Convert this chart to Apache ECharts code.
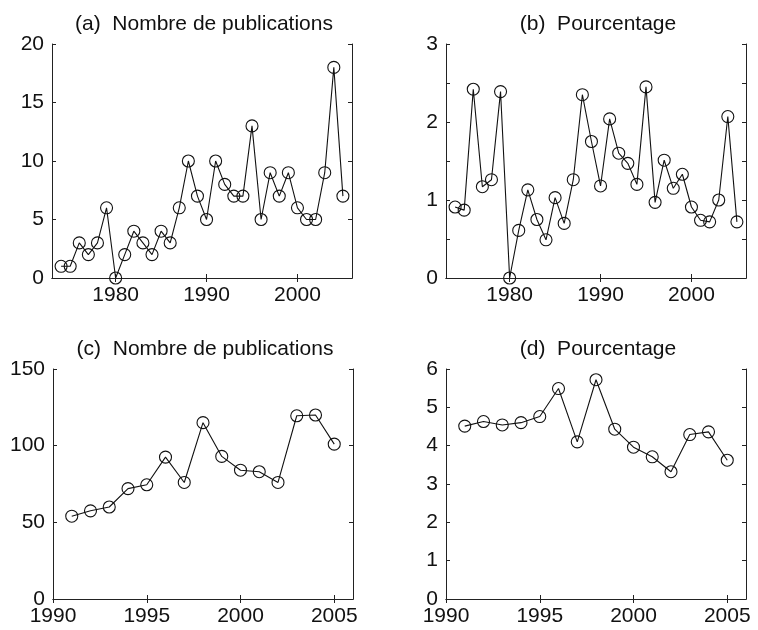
<!DOCTYPE html>
<html>
<head>
<meta charset="utf-8">
<script src="https://cdn.jsdelivr.net/npm/echarts@6/dist/echarts.min.js"></script>
<style>
html,body{margin:0;padding:0;background:#fff;}
#chart{width:758px;height:630px;}
</style>
</head>
<body>
<div id="chart"></div>
<script>
// ---- Data ----
const yearsTop = [1974,1975,1976,1977,1978,1979,1980,1981,1982,1983,1984,1985,1986,1987,1988,1989,
                  1990,1991,1992,1993,1994,1995,1996,1997,1998,1999,2000,2001,2002,2003,2004,2005];
const pubsA = [1,1,3,2,3,6,0,2,4,3,2,4,3,6,10,7,5,10,8,7,7,13,5,9,7,9,6,5,5,9,18,7];
const pctB = [0.91,0.87,2.42,1.17,1.26,2.39,0,0.61,1.13,0.75,0.49,1.03,0.70,1.26,2.35,1.75,
              1.18,2.04,1.60,1.47,1.20,2.45,0.97,1.51,1.15,1.33,0.91,0.74,0.72,1.00,2.07,0.72];
const yearsBottom = [1991,1992,1993,1994,1995,1996,1997,1998,1999,2000,2001,2002,2003,2004,2005];
const pubsC = [54,57.5,60,72,74.5,92.5,76,115,93,84,83,76,119.5,120,101];
const pctD = [4.51,4.63,4.54,4.60,4.76,5.49,4.10,5.72,4.43,3.96,3.71,3.32,4.29,4.36,3.62];

const titles = ['(a)  Nombre de publications','(b)  Pourcentage','(c)  Nombre de publications','(d)  Pourcentage'];
const xTicksTop = [1980,1990,2000];
const xTicksBottom = [1990,1995,2000,2005];

// ---- Layout ----
const FONT = "'Liberation Sans', Arial, sans-serif";
const TXT = '#111';
const AX = '#222';
const FS = 21;
const grids = [
  {left:52, top:44, width:300, height:234},
  {left:446, top:44, width:300, height:234},
  {left:53, top:369, width:300, height:230},
  {left:446, top:369, width:300, height:230}
];
const xr = [[1973,2006],[1973,2006],[1990,2006],[1990,2006]];
const xt = [xTicksTop, xTicksTop, xTicksBottom, xTicksBottom];
const yr = [[0,20,5],[0,3,0.5],[0,150,50],[0,6,1]];
const seriesData = [
  yearsTop.map((y,i)=>[y,pubsA[i]]),
  yearsTop.map((y,i)=>[y,pctB[i]]),
  yearsBottom.map((y,i)=>[y,pubsC[i]]),
  yearsBottom.map((y,i)=>[y,pctD[i]])
];

const xAxis = [], yAxis = [], series = [], title = [];
grids.forEach((g,i)=>{
  const axLine = {show:true, lineStyle:{color:AX, width:1}};
  const tick = {show:true, inside:true, length:4, lineStyle:{color:AX}, customValues: xt[i]};
  xAxis.push({type:'value', gridIndex:i, position:'bottom', min:xr[i][0], max:xr[i][1],
    axisLine:axLine, axisTick:tick, splitLine:{show:false},
    axisLabel:{customValues: xt[i], color:TXT, fontFamily:FONT, fontSize:FS, margin:7,
      formatter: v => String(Math.round(v))}});
  xAxis.push({type:'value', gridIndex:i, position:'top', min:xr[i][0], max:xr[i][1],
    axisLine:axLine, axisTick:tick, splitLine:{show:false}, axisLabel:{show:false}});
  const yt = {show:true, inside:true, length:4, lineStyle:{color:AX}};
  const fmt = v => (Math.abs(v - Math.round(v)) < 1e-9 ? String(Math.round(v)) : '');
  yAxis.push({type:'value', gridIndex:i, position:'left', min:yr[i][0], max:yr[i][1], interval:yr[i][2],
    axisLine:axLine, axisTick:yt, splitLine:{show:false},
    axisLabel:{color:TXT, fontFamily:FONT, fontSize:FS, margin:8, formatter: fmt}});
  yAxis.push({type:'value', gridIndex:i, position:'right', min:yr[i][0], max:yr[i][1], interval:yr[i][2],
    axisLine:axLine, axisTick:yt, splitLine:{show:false}, axisLabel:{show:false}});
  series.push({type:'line', xAxisIndex:2*i, yAxisIndex:2*i, data:seriesData[i],
    symbol:'circle', symbolSize:12, showAllSymbol:true, animation:false,
    lineStyle:{color:'#111', width:1.1},
    itemStyle:{color:'rgba(255,255,255,0)', borderColor:'#111', borderWidth:1.1}});
  title.push({text:titles[i], left:g.left + g.width/2 - 3, top:g.top - 35, textAlign:'center',
    textStyle:{color:TXT, fontFamily:FONT, fontSize:FS, fontWeight:'normal'}});
});

const chart = echarts.init(document.getElementById('chart'), null, {renderer:'canvas'});
chart.setOption({backgroundColor:'#fff', animation:false, title, grid:grids, xAxis, yAxis, series});
</script>
</body>
</html>
